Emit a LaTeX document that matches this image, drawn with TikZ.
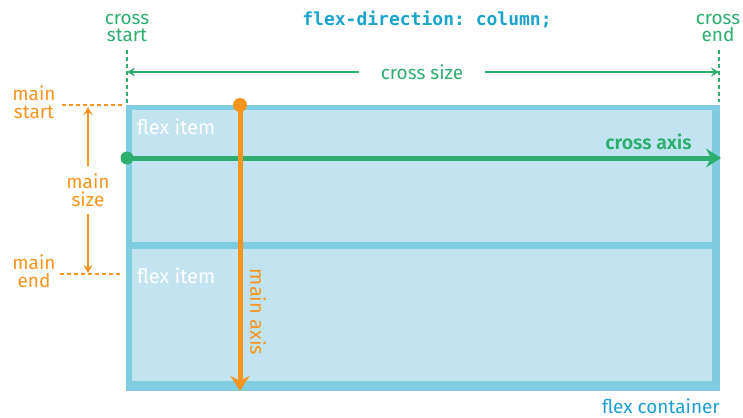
\documentclass[tikz,border=0pt]{standalone}
\usepackage{fontspec}
\setmainfont{Fira Sans}[BoldFont={Fira Sans SemiBold}]
\setmonofont{DejaVu Sans Mono}
\usetikzlibrary{arrows.meta}
\definecolor{cgreen}{HTML}{2DAE6E}
\definecolor{corange}{HTML}{F7941E}
\definecolor{cborder}{HTML}{80CCE0}
\definecolor{cfill}{HTML}{C2E4F0}
\definecolor{ccode}{HTML}{1BA5CC}
\definecolor{cblue}{HTML}{1E9FCF}
\tikzset{
  lbl/.style={font=\fontsize{19}{17.5}\selectfont, align=center, inner sep=0pt},
  itemtxt/.style={lbl, text=white, anchor=west},
  thinarrow/.style={line width=2pt, -{Stealth[length=8pt,width=9pt,inset=3pt]}},
  bigarrow/.style={line width=5pt, -{Stealth[length=15pt,width=19pt,inset=5pt]}},
  dashline/.style={line width=1.2pt, dash pattern=on 4pt off 3pt},
}
\begin{document}
\begin{tikzpicture}[x=1pt,y=-1pt]
\useasboundingbox (0,0) rectangle (743,417);
% container
\fill[cborder] (126,105) rectangle (720,391);
\fill[cfill] (132,110) rectangle (712,242);
\fill[cfill] (132,249) rectangle (712,381);
\node[itemtxt, font=\fontsize{20}{20}\selectfont] (item1) at (137,127) {flex item};
\node[itemtxt, font=\fontsize{20}{20}\selectfont] (item2) at (137,276) {flex item};
\node[lbl, text=cblue, anchor=base east] (cont) at (720,413) {flex container};
% code
\node[inner sep=0pt, text=ccode, font=\fontsize{18}{18}\selectfont\ttfamily\bfseries] (code) at (427,19) {flex-direction: column;};
% cross labels
\node[lbl, text=cgreen] (cstart) at (127,28) {cross\\start};
\node[lbl, text=cgreen] (cend) at (718,28) {cross\\end};
\coordinate (cs1) at (127,50);
\coordinate (cs2) at (127,104);
\coordinate (ce1) at (719,50);
\coordinate (ce2) at (719,102);
\draw[cgreen, dashline] (cs1) -- (cs2);
\draw[cgreen, dashline] (ce1) -- (ce2);
\node[lbl, text=cgreen, minimum width=125pt, minimum height=14pt] (csize) at (422,72) {cross size};
\coordinate (csl) at (127,72);
\coordinate (csr) at (719,72);
\draw[cgreen, thinarrow] (csize.west) -- (csl);
\draw[cgreen, thinarrow] (csize.east) -- (csr);
% main labels
\node[lbl, text=corange] (mstart) at (34,102) {main\\start};
\node[lbl, text=corange] (mend) at (34,271) {main\\end};
\coordinate (ms1) at (62,105);
\coordinate (ms2) at (123,105);
\coordinate (me1) at (60,274);
\coordinate (me2) at (123,274);
\draw[corange, dashline] (ms1) -- (ms2);
\draw[corange, dashline] (me1) -- (me2);
\node[lbl, text=corange, minimum height=47pt] (msize) at (88,190) {main\\size};
\coordinate (mst) at (88,107);
\coordinate (men) at (88,273);
\draw[corange, thinarrow] (msize.north) -- (mst);
\draw[corange, thinarrow] (msize.south) -- (men);
% cross axis
\coordinate (cax0) at (127,158);
\coordinate (cax1) at (721,158);
\draw[cgreen, bigarrow] (cax0) -- (cax1);
\fill[cgreen] (cax0) circle (6.5pt);
\node[lbl, text=cgreen, font=\fontsize{19.5}{18}\selectfont\bfseries, anchor=east] (caxl) at (692,142) {cross axis};
% main axis
\coordinate (max0) at (240,105);
\coordinate (max1) at (240,391);
\draw[corange, bigarrow] (max0) -- (max1);
\fill[corange] (max0) circle (7pt);
\node[lbl, text=corange, rotate=-90, font=\fontsize{20}{20}\selectfont] (maxl) at (258,312) {main axis};
\end{tikzpicture}
\end{document}
